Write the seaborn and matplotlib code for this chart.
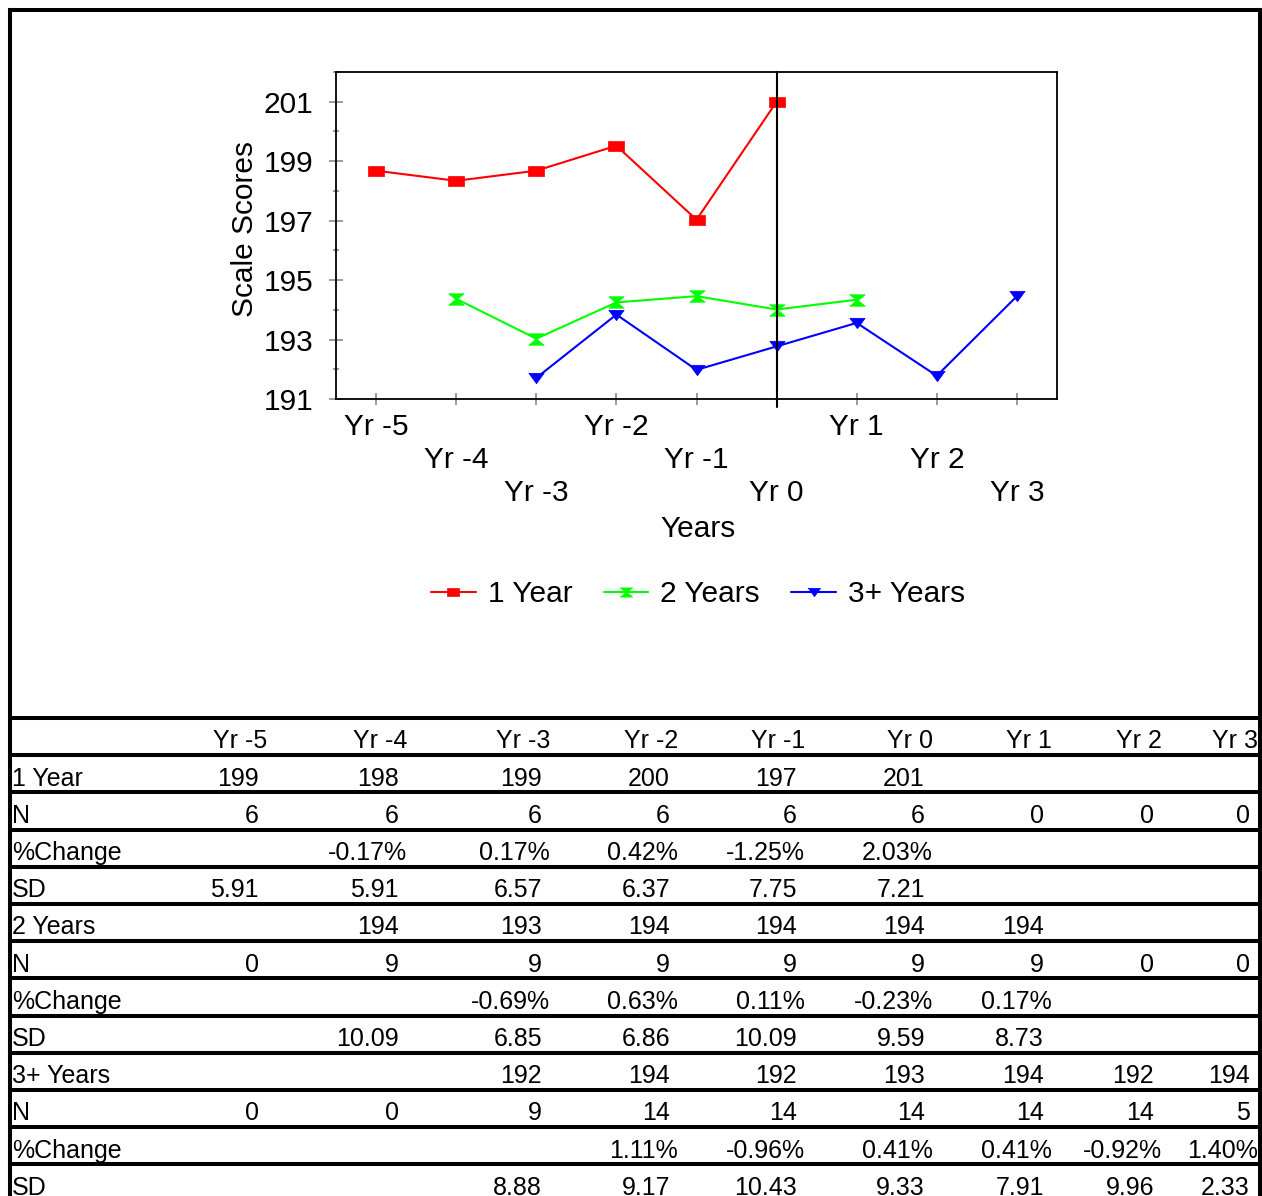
import numpy as np
import pandas as pd
import matplotlib
matplotlib.use("Agg")
import matplotlib.pyplot as plt
from matplotlib.ticker import FixedLocator
import seaborn as sns

# ---- data -------------------------------------------------------------
years = ["Yr -5", "Yr -4", "Yr -3", "Yr -2", "Yr -1", "Yr 0", "Yr 1", "Yr 2", "Yr 3"]
nan = np.nan
one_year = [198.68, 198.34, 198.68, 199.52, 197.03, 201.00, nan, nan, nan]
two_years = [nan, 194.37, 193.03, 194.25, 194.46, 194.01, 194.34, nan, nan]
three_plus = [nan, nan, 191.71, 193.84, 191.98, 192.77, 193.56, 191.78, 194.46]
series_names = ["1 Year", "2 Years", "3+ Years"]

row_labels = ["1 Year", "N", "%Change", "SD",
              "2 Years", "N", "%Change", "SD",
              "3+ Years", "N", "%Change", "SD"]
row_cells = [
    ["199", "198", "199", "200", "197", "201", "", "", ""],
    ["6", "6", "6", "6", "6", "6", "0", "0", "0"],
    ["", "-0.17%", "0.17%", "0.42%", "-1.25%", "2.03%", "", "", ""],
    ["5.91", "5.91", "6.57", "6.37", "7.75", "7.21", "", "", ""],
    ["", "194", "193", "194", "194", "194", "194", "", ""],
    ["0", "9", "9", "9", "9", "9", "9", "0", "0"],
    ["", "", "-0.69%", "0.63%", "0.11%", "-0.23%", "0.17%", "", ""],
    ["", "10.09", "6.85", "6.86", "10.09", "9.59", "8.73", "", ""],
    ["", "", "192", "194", "192", "193", "194", "192", "194"],
    ["0", "0", "9", "14", "14", "14", "14", "14", "5"],
    ["", "", "", "1.11%", "-0.96%", "0.41%", "0.41%", "-0.92%", "1.40%"],
    ["", "", "8.88", "9.17", "10.43", "9.33", "7.91", "9.96", "2.33"],
]

# ---- style ------------------------------------------------------------
sns.set_style("white")
plt.rcParams["font.family"] = ["Liberation Sans", "DejaVu Sans"]
plt.rcParams["text.color"] = "black"
plt.rcParams["axes.labelcolor"] = "black"
plt.rcParams["xtick.labelcolor"] = "black"
plt.rcParams["ytick.labelcolor"] = "black"

W, H = 1262, 1196
fig = plt.figure(figsize=(W / 100, H / 100), dpi=100)
fig.patch.set_facecolor("white")

ax = fig.add_axes([336 / W, 1 - 399 / H, 721 / W, 327 / H])
ax.set_facecolor("white")

rect_marker = [(-1, -0.67), (1, -0.67), (1, 0.67), (-1, 0.67), (-1, -0.67)]
hourglass = [(-1, 0.75), (1, 0.75), (0.12, 0), (1, -0.75), (-1, -0.75),
             (-0.12, 0), (-1, 0.75)]
tri_down = [(-1, 0.68), (1, 0.68), (0, -0.68), (-1, 0.68)]

pos = np.arange(len(years))
specs = [
    (one_year, "#FF0000", rect_marker, 11),
    (two_years, "#00FF00", hourglass, 11),
    (three_plus, "#0000FF", tri_down, 11),
]
for name, (vals, color, mk, ms) in zip(series_names, specs):
    df = pd.DataFrame({"pos": pos, "score": vals}).dropna()
    sns.lineplot(data=df, x="pos", y="score", ax=ax, color=color, marker=mk,
                 markersize=ms, markeredgecolor=color, markeredgewidth=0.5,
                 linewidth=1.5, label=name, legend=False, zorder=3)

# reference line at Yr 0
ax.axvline(years.index("Yr 0"), ymin=-0.025, ymax=1, color="black", lw=1.5,
           clip_on=False, zorder=5)

FS = 21.5
ax.set_xlim(-0.5, len(years) - 0.5)
ax.set_ylim(191, 202)
ax.yaxis.set_major_locator(FixedLocator(np.arange(191, 202, 2)))
ax.yaxis.set_minor_locator(FixedLocator(np.arange(192, 203, 2)))
ax.set_xticks(pos)
stagger = ["\n" * (i % 3) + y for i, y in enumerate(years)]
ax.set_xticklabels(stagger, fontsize=FS, linespacing=1.22, color="black")
ax.tick_params(axis="y", which="major", direction="inout", length=10,
               width=1.1, color="#808080", labelsize=FS, labelcolor="black",
               pad=11.5, left=True)
ax.tick_params(axis="y", which="minor", direction="inout", length=5,
               width=1.1, color="#808080", left=True)
ax.tick_params(axis="x", which="major", direction="inout", length=8.6,
               width=1.1, color="#808080", pad=6, bottom=True)

for sp in ax.spines.values():
    sp.set_visible(True)
    sp.set_color("black")
    sp.set_linewidth(1.3)

ax.set_ylabel("Scale Scores", fontsize=FS, color="black")
ax.yaxis.set_label_coords(-0.107, 0.52)
ax.set_xlabel("Years", fontsize=FS, color="black")
ax.xaxis.set_label_coords(0.502, -0.355)

handles, labels = ax.get_legend_handles_labels()
leg = ax.legend(handles, labels, loc="center", bbox_to_anchor=(0.502, -0.597),
                ncol=3, frameon=False, fontsize=FS, handlelength=1.5,
                handletextpad=0.4, columnspacing=1.05, markerscale=0.8)
for t in leg.get_texts():
    t.set_color("black")

# ---- frame and data table (figure pixel coordinates) -------------------
ov = fig.add_axes([0, 0, 1, 1], zorder=10)
ov.set_xlim(0, W)
ov.set_ylim(H, 0)
ov.axis("off")

border = 2.9
left_x, right_x, top_y = 10, 1260, 10
ov.plot([left_x, right_x], [top_y, top_y], color="black", lw=border,
        solid_capstyle="projecting")
ov.plot([left_x, left_x], [top_y, H + 5], color="black", lw=border,
        solid_capstyle="projecting")
ov.plot([right_x, right_x], [top_y, H + 5], color="black", lw=border,
        solid_capstyle="projecting")

table_top = 718
row_h = 37.2
n_rows = len(row_labels) + 1
for k in range(n_rows):
    yk = table_top + k * row_h
    ov.plot([left_x, right_x], [yk, yk], color="black", lw=border,
            solid_capstyle="projecting")

col_right = [267, 407, 550, 678, 805, 933, 1052, 1162, 1258]
fs_t = 18
base = 30.5
for j, yl in enumerate(years):
    ov.text(col_right[j], table_top + base, yl, ha="right", va="baseline",
            fontsize=fs_t, color="black")
for i, (lab, cells) in enumerate(zip(row_labels, row_cells)):
    yb = table_top + (i + 1) * row_h + base
    ov.text(12, yb, lab, ha="left", va="baseline", fontsize=fs_t,
            color="black")
    for j, c in enumerate(cells):
        if not c:
            continue
        xr = col_right[j] if c.endswith("%") else col_right[j] - 8
        ov.text(xr, yb, c, ha="right", va="baseline", fontsize=fs_t,
                color="black")

fig.savefig("out.png", dpi=100, facecolor="white")
